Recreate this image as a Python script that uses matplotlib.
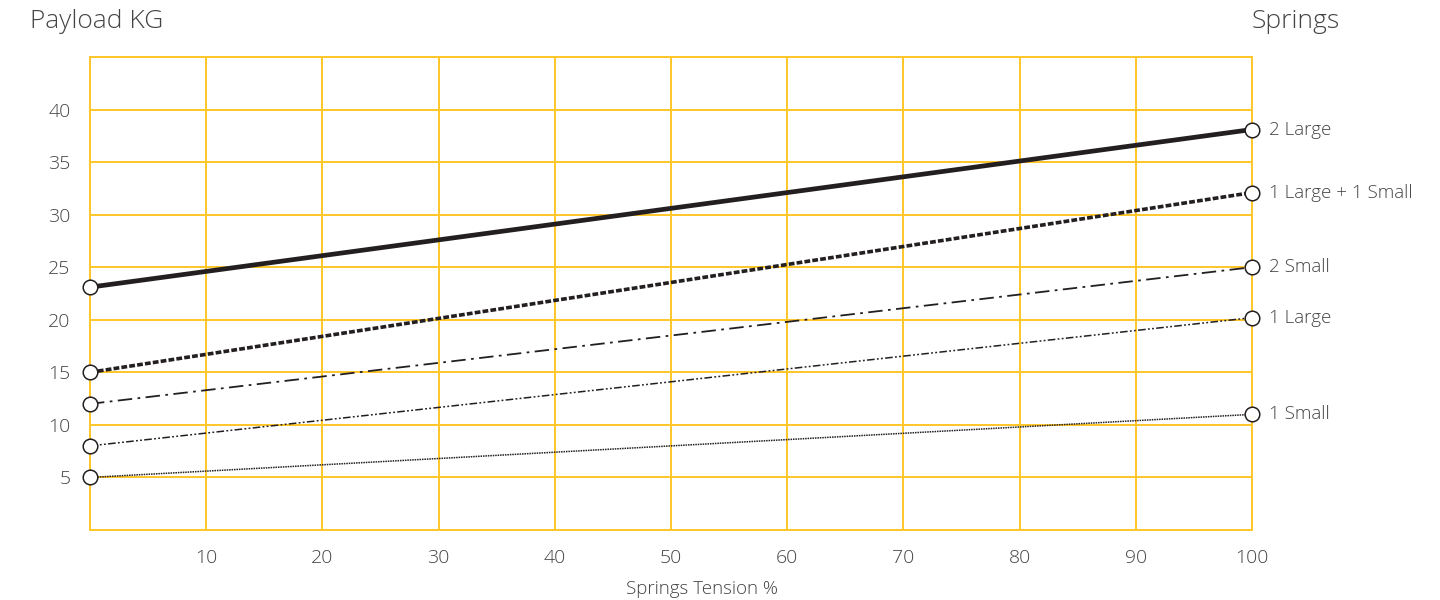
import matplotlib.pyplot as plt

# payload vs spring tension for each spring setup
tension = [0, 100]
setups = ['2 Large', '1 Large + 1 Small', '2 Small', '1 Large', '1 Small']
payload_2l = [23.1, 38.1]
payload_1l1s = [15, 32.1]
payload_2s = [12, 25]
payload_1l = [8, 20.2]
payload_1s = [5, 11]

x_ticks = [10, 20, 30, 40, 50, 60, 70, 80, 90, 100]
y_ticks = [5, 10, 15, 20, 25, 30, 35, 40]

gold = '#FFC629'
ink = '#231f20'
grey = '#444444'
plt.rcParams['font.family'] = ['Open Sans', 'DejaVu Sans']
plt.rcParams['font.weight'] = 'light'

fig = plt.figure(figsize=(14.4, 6), dpi=100)
ax = fig.add_axes([0.0625, 0.1167, 0.8069, 0.7883])

series = [payload_2l, payload_1l1s, payload_2s, payload_1l, payload_1s]
styles = [
    dict(lw=3.4, ls='-'),
    dict(lw=2.6, ls=(0, (1.6, 0.6))),
    dict(lw=1.3, ls=(0, (8, 3, 1.5, 3))),
    dict(lw=1.1, ls=(0, (5, 1.5, 1.2, 1.5, 1.2, 1.5))),
    dict(lw=1.1, ls=(0, (1, 0.6))),
]
for name, vals, st in zip(setups, series, styles):
    ax.plot(tension, vals, color=ink, zorder=3, solid_capstyle='butt', **st)
    ax.plot(tension, vals, 'o', ms=10.5, mfc='white', mec=ink, mew=1.1,
            zorder=4, clip_on=False)
    ax.text(101.5, vals[1], name, va='center', ha='left', fontsize=13.5,
            color=grey)

ax.set_xlim(0, 100)
ax.set_ylim(0, 45)
ax.set_xticks(x_ticks)
ax.set_yticks(y_ticks)
ax.set_xticks([0], minor=True)
ax.set_yticks([45], minor=True)
ax.grid(True, which='both', color=gold, lw=1.4, zorder=1)
ax.tick_params(which='both', length=0, labelsize=14, colors=grey, pad=14)
for s in ax.spines.values():
    s.set_color(gold)
    s.set_linewidth(1.4)
ax.set_xlabel('Springs Tension %', fontsize=13.5, color=grey,
              fontweight='light')
ax.xaxis.set_label_coords(0.527, -0.105)

fig.text(30 / 1440, 1 - 22 / 600, 'Payload KG', fontsize=19, color=grey,
         va='center', ha='left')
fig.text(1340 / 1440, 1 - 22 / 600, 'Springs', fontsize=19, color=grey,
         va='center', ha='right')

fig.savefig('out.png', dpi=100)
